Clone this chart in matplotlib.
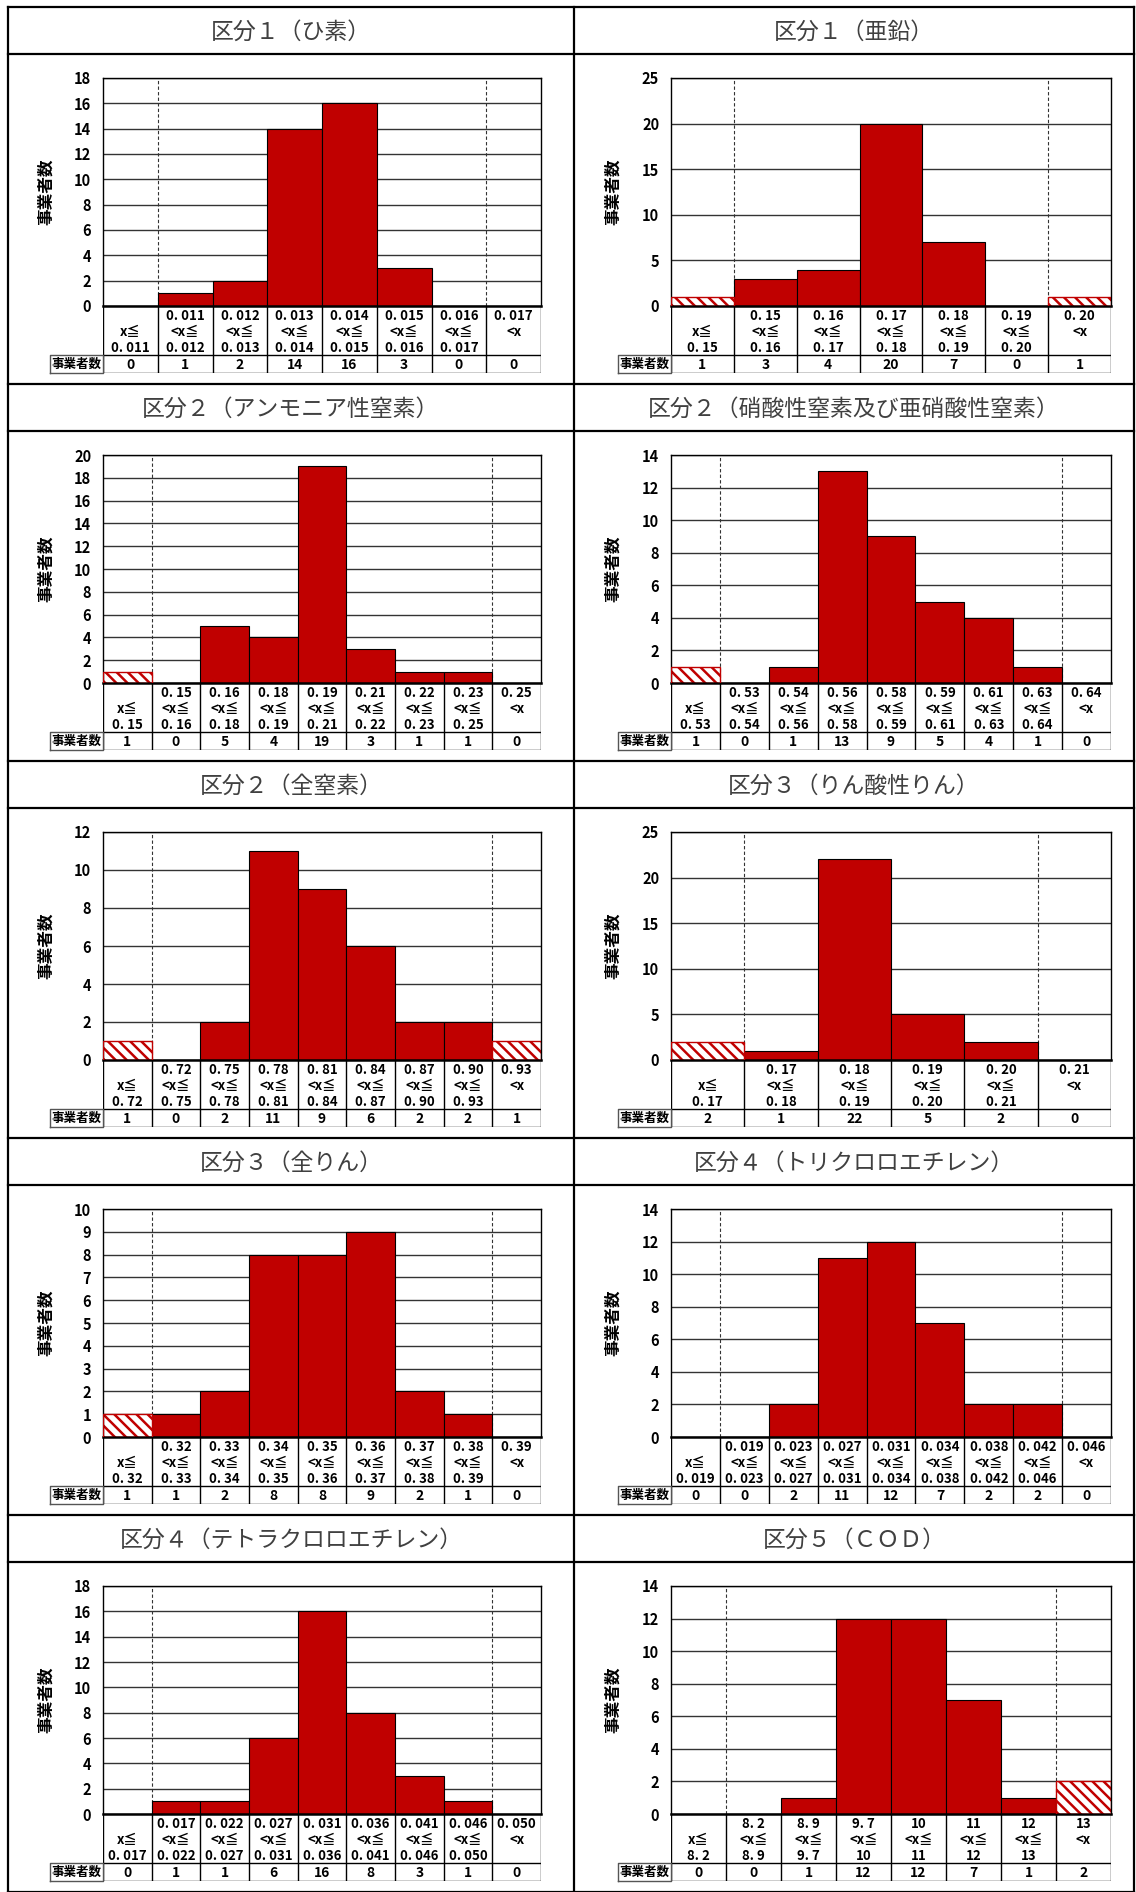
import matplotlib
matplotlib.use("Agg")
import matplotlib.pyplot as plt
import numpy as np

plt.rcParams["font.family"] = ["Noto Sans CJK JP", "DejaVu Sans"]
plt.rcParams["hatch.linewidth"] = 1.8

W, H = 1136, 1892

titles = [
    "区分１（ひ素）", "区分１（亜鉛）",
    "区分２（アンモニア性窒素）", "区分２（硝酸性窒素及び亜硝酸性窒素）",
    "区分２（全窒素）", "区分３（りん酸性りん）",
    "区分３（全りん）", "区分４（トリクロロエチレン）",
    "区分４（テトラクロロエチレン）", "区分５（ＣＯＤ）",
]

arsenic_edges = ["0.011", "0.012", "0.013", "0.014", "0.015", "0.016", "0.017"]
arsenic_counts = [0, 1, 2, 14, 16, 3, 0, 0]
zinc_edges = ["0.15", "0.16", "0.17", "0.18", "0.19", "0.20"]
zinc_counts = [1, 3, 4, 20, 7, 0, 1]
ammonia_edges = ["0.15", "0.16", "0.18", "0.19", "0.21", "0.22", "0.23", "0.25"]
ammonia_counts = [1, 0, 5, 4, 19, 3, 1, 1, 0]
nitrate_edges = ["0.53", "0.54", "0.56", "0.58", "0.59", "0.61", "0.63", "0.64"]
nitrate_counts = [1, 0, 1, 13, 9, 5, 4, 1, 0]
totaln_edges = ["0.72", "0.75", "0.78", "0.81", "0.84", "0.87", "0.90", "0.93"]
totaln_counts = [1, 0, 2, 11, 9, 6, 2, 2, 1]
phosphate_edges = ["0.17", "0.18", "0.19", "0.20", "0.21"]
phosphate_counts = [2, 1, 22, 5, 2, 0]
totalp_edges = ["0.32", "0.33", "0.34", "0.35", "0.36", "0.37", "0.38", "0.39"]
totalp_counts = [1, 1, 2, 8, 8, 9, 2, 1, 0]
tce_edges = ["0.019", "0.023", "0.027", "0.031", "0.034", "0.038", "0.042", "0.046"]
tce_counts = [0, 0, 2, 11, 12, 7, 2, 2, 0]
pce_edges = ["0.017", "0.022", "0.027", "0.031", "0.036", "0.041", "0.046", "0.050"]
pce_counts = [0, 1, 1, 6, 16, 8, 3, 1, 0]
cod_edges = ["8.2", "8.9", "9.7", "10", "11", "12", "13"]
cod_counts = [0, 0, 1, 12, 12, 7, 1, 2]

y_max = [18, 25, 20, 14, 12, 25, 10, 14, 18, 14]
y_step = [2, 5, 2, 2, 2, 5, 1, 2, 2, 2]

panels = [
    (arsenic_edges, arsenic_counts), (zinc_edges, zinc_counts),
    (ammonia_edges, ammonia_counts), (nitrate_edges, nitrate_counts),
    (totaln_edges, totaln_counts), (phosphate_edges, phosphate_counts),
    (totalp_edges, totalp_counts), (tce_edges, tce_counts),
    (pce_edges, pce_counts), (cod_edges, cod_counts),
]

RED = "#C00000"
ROW_H = 377
TOP = 7
COL_X = [(8, 574), (574, 1134)]
PLOT_X = [(103, 541), (671, 1111)]
YLABEL_X = [55, 622]
LABEL_CELL_W = 53


def rect(x0, y0, x1, y1):
    return [x0 / W, 1 - y1 / H, (x1 - x0) / W, (y1 - y0) / H]


def fmt(v):
    return v.replace(".", ". ")


def bin_labels(edges):
    n = len(edges) + 1
    out = []
    for i in range(n):
        if i == 0:
            out.append(("", "x≦", fmt(edges[0])))
        elif i == n - 1:
            out.append((fmt(edges[-1]), "<x", ""))
        else:
            out.append((fmt(edges[i - 1]), "<x≦", fmt(edges[i])))
    return out


fig = plt.figure(figsize=(W / 100, H / 100), dpi=100)

# frame of the outer table
frame = fig.add_axes([0, 0, 1, 1])
frame.set_xlim(0, W)
frame.set_ylim(H, 0)
frame.axis("off")
frame.set_zorder(-1)

for k, (title, (edges, counts)) in enumerate(zip(titles, panels)):
    r, c = divmod(k, 2)
    top = TOP + ROW_H * r
    cx0, cx1 = COL_X[c]
    px0, px1 = PLOT_X[c]
    n = len(counts)
    x = np.arange(n) + 0.5

    frame.text((cx0 + cx1) / 2, top + 25, title, ha="center", va="center",
               fontsize=16.5, color="#404040")

    ax = fig.add_axes(rect(px0, top + 71, px1, top + 299))
    ax.set_xlim(0, n)
    ax.set_ylim(0, y_max[k])
    ax.set_yticks(np.arange(0, y_max[k] + 0.1, y_step[k]))
    ax.set_xticks([])
    ax.yaxis.grid(True, color="#333333", lw=1.0)
    ax.set_axisbelow(True)
    ax.tick_params(axis="y", length=0, pad=8.5, labelsize=10.5)
    for lab in ax.get_yticklabels():
        lab.set_fontweight("bold")
    for s in ax.spines.values():
        s.set_linewidth(1.0)
    ax.spines["bottom"].set_linewidth(1.8)
    ax.axvline(1, ls=(0, (3, 2)), color="#333333", lw=0.8, zorder=0.5)
    ax.axvline(n - 1, ls=(0, (3, 2)), color="#333333", lw=0.8, zorder=0.5)

    inner = list(range(1, n - 1))
    ax.bar(x[inner], [counts[i] for i in inner], width=1.0, color=RED,
           edgecolor="black", linewidth=0.8, zorder=2)
    for i in (0, n - 1):
        if counts[i] > 0:
            ax.bar(x[i], counts[i], width=1.0, color="white", edgecolor=RED,
                   hatch="\\\\\\", linewidth=0, zorder=2)
            ax.bar(x[i], counts[i], width=1.0, fill=False, edgecolor=RED,
                   linewidth=1.0, zorder=3)

    ax.set_ylabel("事業者数", fontsize=12, fontweight="bold")
    ax.yaxis.set_label_coords((YLABEL_X[c] - px0) / (px1 - px0), 0.5)

    # category table under the chart
    tab = fig.add_axes(rect(px0, top + 299, px1, top + 366))
    tab.set_xlim(0, n)
    tab.set_ylim(0, 1)
    tab.axis("off")
    row_top = 18 / 67
    for j in range(n + 1):
        tab.plot([j, j], [0, 1], color="black", lw=1.0)
    tab.plot([0, n], [0, 0], color="black", lw=1.0)
    tab.plot([0, n], [row_top, row_top], color="black", lw=1.0)
    lab_w = LABEL_CELL_W / (px1 - px0) * n
    tab.plot([-lab_w, 0, 0, -lab_w, -lab_w], [0, 0, row_top, row_top, 0],
             color="#555555", lw=1.0, clip_on=False)
    tab.text(-lab_w / 2, row_top / 2, "事業者数", ha="center", va="center",
             fontsize=9, fontweight="bold", clip_on=False)
    for j, lines in enumerate(bin_labels(edges)):
        for yy, s in zip((0.855, 0.605, 0.37), lines):
            tab.text(j + 0.5, yy, s, ha="center", va="center", fontsize=9.5,
                     fontweight="bold")
        tab.text(j + 0.5, 0.12, str(counts[j]), ha="center", va="center",
                 fontsize=10, fontweight="bold")

# grid lines of the outer table
lw = 1.6
frame.plot([COL_X[0][0], COL_X[1][1]], [TOP, TOP], color="black", lw=lw)
for r in range(5):
    top = TOP + ROW_H * r
    frame.plot([COL_X[0][0], COL_X[1][1]], [top + 47, top + 47], color="black", lw=lw)
    frame.plot([COL_X[0][0], COL_X[1][1]], [top + ROW_H, top + ROW_H], color="black", lw=lw)
bottom = TOP + ROW_H * 5 - 1
for xx in (COL_X[0][0], COL_X[0][1], COL_X[1][1]):
    frame.plot([xx, xx], [TOP, bottom], color="black", lw=lw)

fig.savefig("out.png", dpi=100, facecolor="white")
